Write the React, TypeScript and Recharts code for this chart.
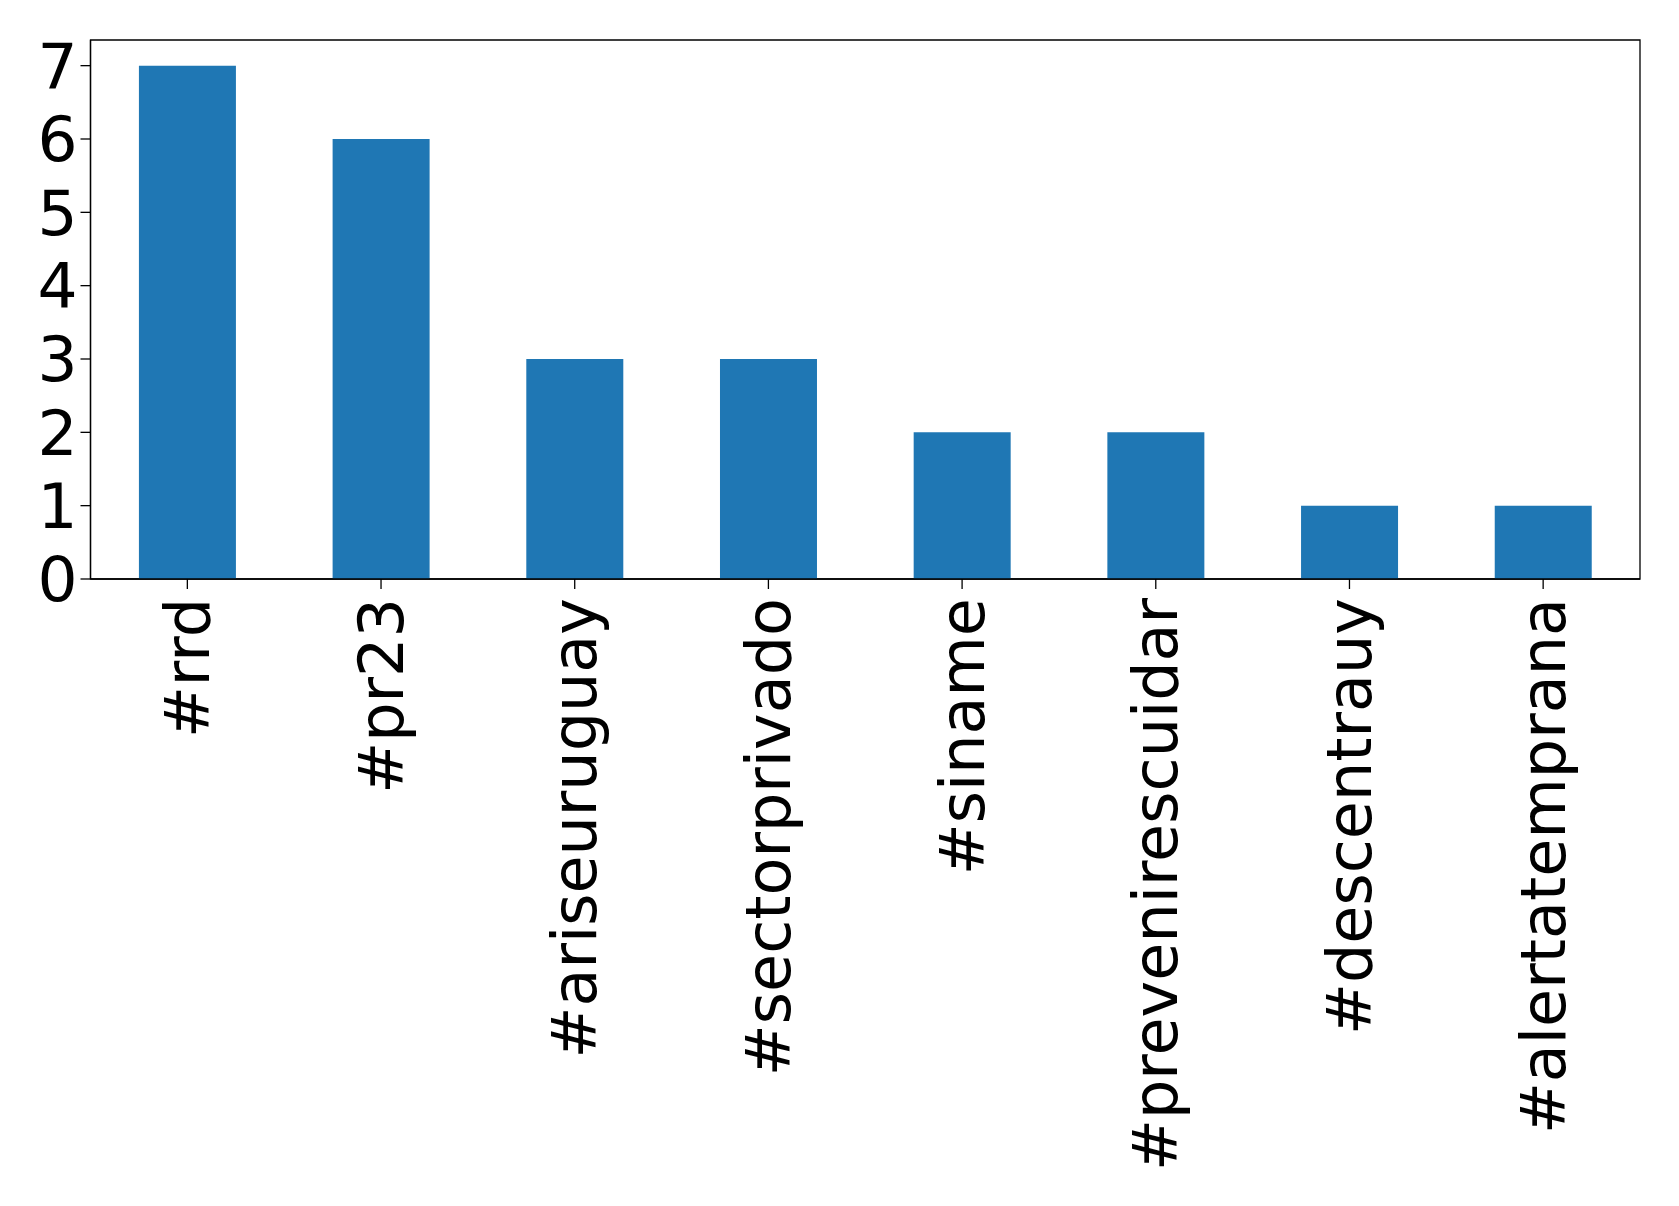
import React from "react";
import { BarChart, Bar, XAxis, YAxis, ReferenceArea } from "recharts";

const categories = ["#rrd", "#pr23", "#ariseuruguay", "#sectorprivado", "#siname", "#prevenirescuidar", "#descentrauy", "#alertatemprana"];
const counts = [7, 6, 3, 3, 2, 2, 1, 1];
const yTicks = [0, 1, 2, 3, 4, 5, 6, 7];

const data = categories.map((name, i) => ({ name, value: counts[i] }));

const FONT = "'DejaVu Sans', sans-serif";

const XTick = (props: any) => {
  const { x, y, payload } = props;
  return (
    <text
      x={x}
      y={y}
      transform={`rotate(-90, ${x}, ${y})`}
      textAnchor="end"
      dy="0.35em"
      fontFamily={FONT}
      fontSize={62}
      fill="#000"
    >
      {payload.value}
    </text>
  );
};

export default function App() {
  return (
    <div style={{ position: "absolute", left: 0, top: 0, width: 1679, height: 1206, background: "#fff" }}>
      <BarChart
        width={1679}
        height={1206}
        data={data}
        margin={{ top: 40, right: 39, bottom: 0, left: 0 }}
        barCategoryGap="25%"
      >
        <XAxis
          dataKey="name"
          interval={0}
          height={627}
          tick={<XTick />}
          tickSize={10}
          tickMargin={9}
          axisLine={{ stroke: "#000", strokeWidth: 1.3 }}
          tickLine={{ stroke: "#000", strokeWidth: 1.3 }}
        />
        <YAxis
          domain={[0, 7.35]}
          ticks={yTicks}
          width={90.5}
          tickSize={10}
          tickMargin={3}
          interval={0}
          tick={{ fontFamily: FONT, fontSize: 63, fill: "#000" }}
          axisLine={{ stroke: "#000", strokeWidth: 1.3 }}
          tickLine={{ stroke: "#000", strokeWidth: 1.3 }}
        />
        <Bar dataKey="value" fill="#1f77b4" isAnimationActive={false} />
        <ReferenceArea y1={0} y2={7.35} fill="none" fillOpacity={0} stroke="#000" strokeWidth={1.3} strokeOpacity={1} ifOverflow="visible" />
      </BarChart>
    </div>
  );
}
